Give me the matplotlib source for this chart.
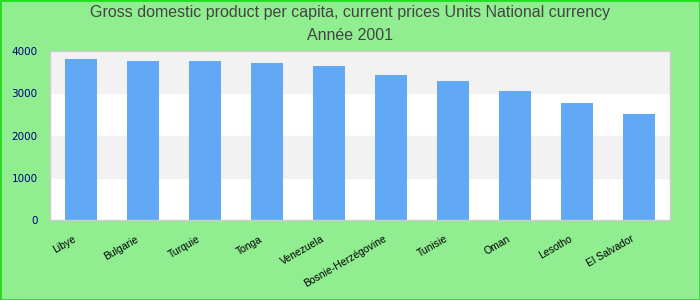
import matplotlib
matplotlib.use("Agg")
from matplotlib import pyplot as plt
from matplotlib.transforms import ScaledTranslation
import numpy as np

countries = ["Libye", "Bulgarie", "Turquie", "Tonga", "Venezuela",
             "Bosnie-Herzégovine", "Tunisie", "Oman", "Lesotho", "El Salvador"]
gdp = [3810, 3765, 3760, 3715, 3645, 3430, 3290, 3055, 2770, 2510]
y_ticks = [0, 1000, 2000, 3000, 4000]

BG = "#90EE90"
BAR = "#61A9F5"

fig = plt.figure(figsize=(7, 3), dpi=100, facecolor=BG)
# thin green frame round the whole picture
fig.patches.append(plt.Rectangle((0, 0), 1, 1, transform=fig.transFigure,
                                 fill=False, edgecolor="#22DD22", linewidth=2))

ax = fig.add_axes([50 / 700, 80 / 300, 620 / 700, 169 / 300])
ax.set_facecolor("white")

# alternating grid bands
for i in range(len(y_ticks) - 1):
    if i % 2 == 1:
        ax.axhspan(y_ticks[i], y_ticks[i + 1], color="#F2F2F2", zorder=0)

x = np.arange(len(countries))
ax.bar(x, gdp, width=0.52, color=BAR, zorder=2)

ax.set_xlim(-0.5, len(countries) - 0.5)
ax.set_ylim(0, 4000)
ax.set_yticks(y_ticks)
ax.set_yticklabels([str(v) for v in y_ticks], color="navy", fontsize=7.5)
ax.tick_params(axis="y", length=0, pad=9)
ax.set_xticks(x)
ax.set_xticklabels(countries, rotation=30, ha="right", rotation_mode="anchor",
                   fontsize=7.5, family="Liberation Sans")
ax.tick_params(axis="x", length=0, pad=10)
shift = ScaledTranslation(-8 / 100, 0, fig.dpi_scale_trans)
for lbl in ax.get_xticklabels():
    lbl.set_transform(lbl.get_transform() + shift)

for s in ax.spines.values():
    s.set_color("#CCCCCC")
    s.set_linewidth(1)

fig.text(0.5, 1 - 13 / 300, "Gross domestic product per capita, current prices Units National currency",
         ha="center", va="center", fontsize=11.5, color="#444444", family="Liberation Sans")
fig.text(0.5, 1 - 35 / 300, "Année 2001",
         ha="center", va="center", fontsize=11.5, color="#444444", family="Liberation Sans")

fig.savefig("out.png", dpi=100, facecolor=BG)
